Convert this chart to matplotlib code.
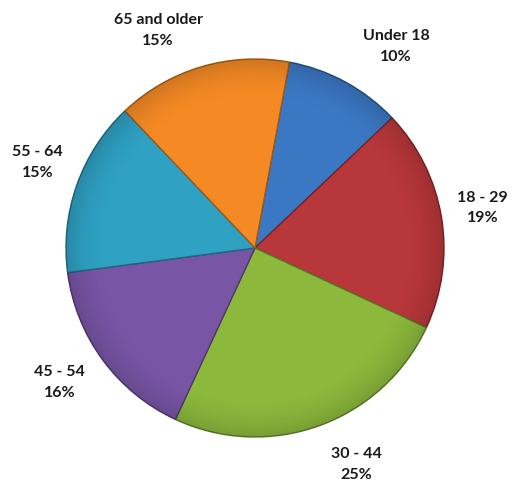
import numpy as np
import matplotlib
matplotlib.use("Agg")
from matplotlib import pyplot as plt
import matplotlib.colors as mcolors

# age groups, clockwise from the top
groups = ["Under 18", "18 - 29", "30 - 44", "45 - 54", "55 - 64", "65 and older"]
shares = [10, 19, 25, 16, 15, 15]
colors = ["#3B78C4", "#B8373A", "#8CB83C", "#7955A6", "#2FA1C3", "#F58A25"]

# label placement: angle (deg) and distance (px) from the centre
label_angles = [55, 10, -65, -145.5, 158.5, 114]
label_radius = [246, 231, 239, 237, 234, 238]

W, H = 513, 483
cx, cy, r = 255, 235, 189

fig = plt.figure(figsize=(W / 100, H / 100), dpi=100)
ax = fig.add_axes([0, 0, 1, 1])
ax.set_xlim(0, W)
ax.set_ylim(0, H)
ax.axis("off")

def darker(c, f=0.65):
    rgb = np.array(mcolors.to_rgb(c))
    return tuple(rgb * f)

wedges, _ = ax.pie(shares, colors=colors, startangle=79.5, counterclock=False,
                   center=(cx, cy), radius=r, frame=True,
                   wedgeprops=dict(linewidth=1.0))
for w, c in zip(wedges, colors):
    w.set_edgecolor(darker(c))

# soft shading: darker near the rim
yy, xx = np.mgrid[0:H, 0:W]
d = np.hypot(xx - cx, (H - yy) - cy) / r
shade = np.zeros((H, W, 4))
shade[..., 3] = np.clip((d - 0.78) / 0.22, 0, 1) ** 2 * 0.15
img = ax.imshow(shade, extent=(0, W, 0, H), origin="upper", zorder=3)
circ = plt.Circle((cx, cy), r, transform=ax.transData)
img.set_clip_path(circ)

for g, s, a, rad in zip(groups, shares, label_angles, label_radius):
    t = np.deg2rad(a)
    ax.text(cx + rad * np.cos(t), cy + rad * np.sin(t), f"{g}\n{s}%",
            ha="center", va="center", fontsize=11.5, fontweight="bold",
            family="Lato", color="#1a1a1a", linespacing=1.6, zorder=4)

ax.set_xlim(0, W)
ax.set_ylim(0, H)
ax.set_aspect("auto")
fig.savefig("out.png", dpi=100)
